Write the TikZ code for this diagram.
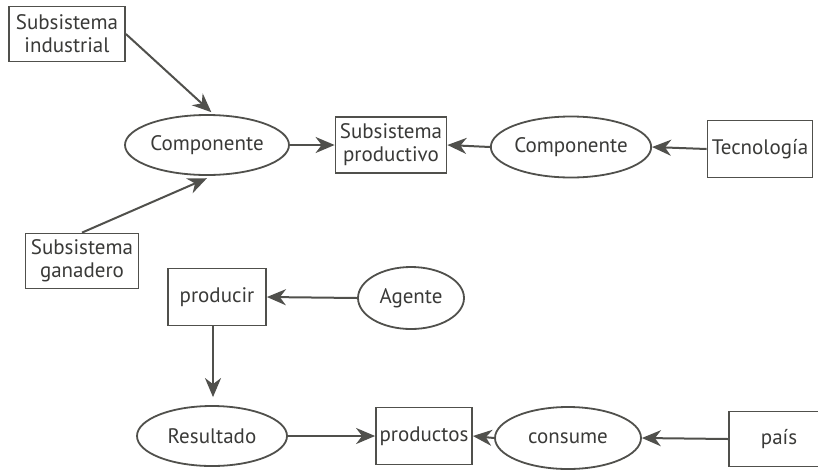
\documentclass[tikz,border=0pt]{standalone}
\usepackage{fontspec}
\setmainfont{PT Sans}
\usetikzlibrary{shapes.geometric,arrows.meta}
\definecolor{ink}{RGB}{80,80,76}
\definecolor{txt}{RGB}{58,58,56}
\begin{document}
\begin{tikzpicture}[x=1pt,y=-1pt,
  font=\fontsize{21}{23}\selectfont,
  every node/.style={text=txt, align=center, inner sep=0pt},
  box/.style={draw=ink, line width=1.8pt, rectangle},
  oval/.style={draw=ink, line width=1.8pt, ellipse},
  link/.style={draw=ink, line width=2pt,
    -{Stealth[length=19pt,width=16pt,inset=6pt]}}]
\useasboundingbox (0,0) rectangle (818,469);
\fill[white] (0,0) rectangle (818,469);

% upper chain
\node[box, minimum width=116pt, minimum height=55pt] (ind) at (67,34) {Subsistema\\industrial};
\node[oval, minimum width=164pt, minimum height=60pt] (c1) at (207,145) {Componente};
\node[box, minimum width=111pt, minimum height=56pt] (sp) at (391,145) {Subsistema\\productivo};
\node[oval, minimum width=158pt, minimum height=61pt] (c2) at (571,147) {Componente};
\node[box, minimum width=105pt, minimum height=57pt] (tec) at (760,149) {Tecnología};
\node[box, minimum width=113pt, minimum height=55pt] (gan) at (82,261) {Subsistema\\ganadero};

% lower chain
\node[box, minimum width=98pt, minimum height=57pt] (prc) at (217,297) {producir};
\node[oval, minimum width=106pt, minimum height=62pt] (ag) at (411,298) {Agente};
\node[oval, minimum width=150pt, minimum height=60pt] (res) at (212,436) {Resultado};
\node[box, minimum width=96pt, minimum height=57pt] (pdt) at (424,436) {productos};
\node[oval, minimum width=146pt, minimum height=62pt] (con) at (568,438) {consume};
\node[box, minimum width=100pt, minimum height=55pt] (pai) at (779,439) {país};

% connectors
\draw[link, shorten >=3pt] (ind.east) -- (c1.78);
\draw[link, shorten >=6pt] (gan.north) -- (c1.-80);
\draw[link] (c1.east) -- (sp.west);
\draw[link] (c2.west) -- (sp.east);
\draw[link] (tec.west) -- (c2.east);
\draw[link] (ag.west) -- (prc.east);
\draw[link, shorten >=8pt] (prc.south -| 213,0) -- (res.north -| 213,0);
\draw[link] (res.east) -- (pdt.west);
\draw[link] (con.west) -- (pdt.east);
\draw[link] (pai.west) -- (con.east);
\end{tikzpicture}
\end{document}
